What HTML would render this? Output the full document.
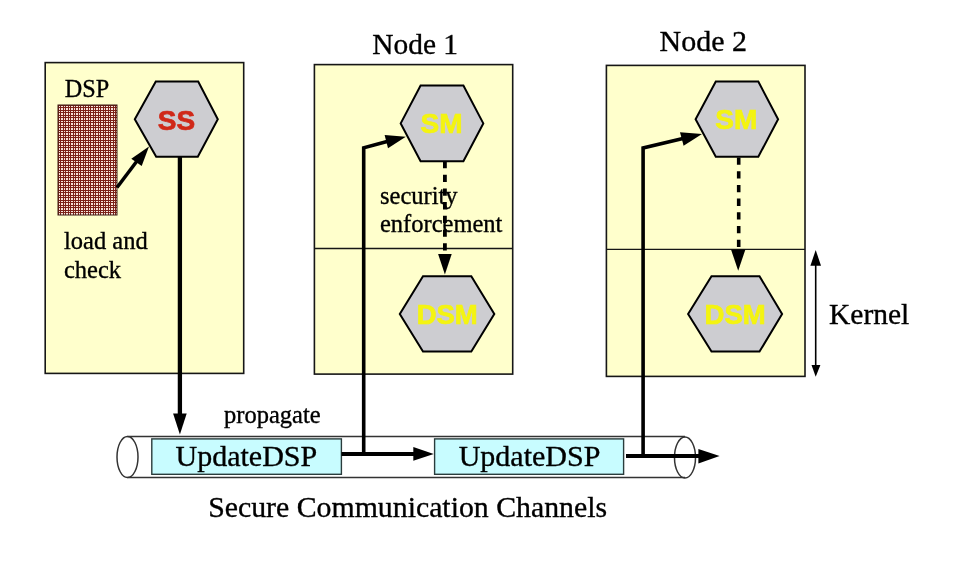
<!DOCTYPE html>
<html><head><meta charset="utf-8">
<style>
html,body{margin:0;padding:0;background:#fff;}
body{width:960px;height:572px;overflow:hidden;position:relative;}
svg{position:absolute;left:0;top:0;will-change:transform;}
.serif{font-family:"Liberation Serif",serif;fill:#000;stroke:#000;stroke-width:0.35px;}
.sans{font-family:"Liberation Sans",sans-serif;font-weight:bold;}
</style></head><body>
<svg width="960" height="572" viewBox="0 0 960 572">
<defs>
<pattern id="grid" x="58" y="105" width="5" height="5" patternUnits="userSpaceOnUse">
<rect width="5" height="5" fill="#f8e4dc"/>
<rect x="0" y="0" width="5" height="1" fill="#7c2219"/>
<rect x="0" y="2" width="5" height="1" fill="#7c2219"/>
<rect x="0" y="0" width="1" height="5" fill="#7c2219"/>
<rect x="2" y="0" width="1" height="5" fill="#7c2219"/>
</pattern>
</defs>

<!-- yellow boxes -->
<rect x="45.2" y="62.6" width="198.5" height="310.8" fill="#ffffcc" stroke="#161616" stroke-width="1.6"/>
<rect x="314.4" y="64.6" width="198.3" height="309.5" fill="#ffffcc" stroke="#161616" stroke-width="1.6"/>
<line x1="314.4" y1="248.5" x2="512.7" y2="248.5" stroke="#161616" stroke-width="1.3"/>
<rect x="606.4" y="65.4" width="198.6" height="311" fill="#ffffcc" stroke="#161616" stroke-width="1.6"/>
<line x1="606.4" y1="249.4" x2="805" y2="249.4" stroke="#161616" stroke-width="1.3"/>

<!-- DSP grid -->
<rect x="58" y="105" width="59" height="110" fill="url(#grid)" stroke="#3a1a14" stroke-width="1"/>

<!-- hexagons -->
<polygon points="134.8,119.2 155.8,81.6 198.2,81.6 217.8,119.2 197.8,156.8 156.2,156.8" fill="#cdcdd1" stroke="#000" stroke-width="2"/>
<polygon points="400.7,123.4 420.6,85.6 463.4,85.6 483.3,123.4 463.4,161.2 420.6,161.2" fill="#cdcdd1" stroke="#000" stroke-width="2"/>
<polygon points="399.8,314 423,276.2 471.3,276.2 494.3,314 471.3,351.6 423,351.6" fill="#cdcdd1" stroke="#000" stroke-width="2"/>
<polygon points="695.6,119.2 715.8,81.6 758.3,81.6 778.1,119.2 758.3,156.8 715.8,156.8" fill="#cdcdd1" stroke="#000" stroke-width="2"/>
<polygon points="688.1,314 711.5,276.2 759.5,276.2 782.1,314 759.5,351.6 711.5,351.6" fill="#cdcdd1" stroke="#000" stroke-width="2"/>

<text class="sans" x="176.5" y="129.6" font-size="28" fill="#d02818" stroke="#d02818" stroke-width="0.7" text-anchor="middle">SS</text>
<text class="sans" x="441.6" y="133.3" font-size="28" fill="#f4f410" stroke="#f4f410" stroke-width="0.7" text-anchor="middle">SM</text>
<text class="sans" x="447.2" y="324.2" font-size="27.5" fill="#f4f410" stroke="#f4f410" stroke-width="0.7" text-anchor="middle">DSM</text>
<text class="sans" x="736.3" y="129.4" font-size="28" fill="#f4f410" stroke="#f4f410" stroke-width="0.7" text-anchor="middle">SM</text>
<text class="sans" x="735.1" y="324.2" font-size="27.5" fill="#f4f410" stroke="#f4f410" stroke-width="0.7" text-anchor="middle">DSM</text>

<!-- serif labels -->
<text class="serif" x="64.8" y="96.8" font-size="24.2">DSP</text>
<text class="serif" x="64" y="248.5" font-size="24.5">load and</text>
<text class="serif" x="64" y="277.5" font-size="24.5">check</text>
<text class="serif" x="372.3" y="54" font-size="29.4">Node 1</text>
<text class="serif" x="659.5" y="51" font-size="30">Node 2</text>
<text class="serif" x="380" y="203.5" font-size="24.5">security</text>
<text class="serif" x="380" y="232" font-size="24.5">enforcement</text>
<text class="serif" x="829" y="324" font-size="29.5">Kernel</text>
<text class="serif" x="224" y="422.5" font-size="24.5">propagate</text>

<!-- dashed arrows -->
<line x1="444.9" y1="161" x2="444.9" y2="254" stroke="#000" stroke-width="3.8" stroke-dasharray="7.3 6.4"/>
<polygon points="438.1,254 451.7,254 444.9,274.6" fill="#000"/>
<line x1="738.7" y1="157.5" x2="738.7" y2="249.5" stroke="#000" stroke-width="3.6" stroke-dasharray="7.3 6.4"/>
<polygon points="731,249.5 745.4,249.5 738.2,270.7" fill="#000"/>

<!-- kernel arrow -->
<line x1="815.7" y1="262" x2="815.7" y2="367" stroke="#000" stroke-width="1.6"/>
<polygon points="815.7,250 810.4,265.7 821,265.7" fill="#000"/>
<polygon points="815.7,376.7 811.5,365 820.4,365" fill="#000"/>

<!-- tube -->
<ellipse cx="127.5" cy="457" rx="10.5" ry="20.5" fill="none" stroke="#333" stroke-width="1.5"/>
<line x1="127.5" y1="436.5" x2="685" y2="436.5" stroke="#333" stroke-width="1.5"/>
<line x1="127.5" y1="477.5" x2="685" y2="477.5" stroke="#333" stroke-width="1.5"/>
<ellipse cx="685" cy="457.5" rx="10.5" ry="20.5" fill="none" stroke="#333" stroke-width="1.5"/>

<!-- cyan boxes -->
<rect x="151.8" y="438.9" width="189.6" height="35.4" fill="#c8fcff" stroke="#2a3c3c" stroke-width="1.4"/>
<rect x="434.6" y="438.9" width="189" height="35.4" fill="#c8fcff" stroke="#2a3c3c" stroke-width="1.4"/>
<text class="serif" x="175.5" y="466.25" font-size="30">UpdateDSP</text>
<text class="serif" x="458.7" y="466.25" font-size="30">UpdateDSP</text>
<text class="serif" x="208.2" y="516.8" font-size="29.8">Secure Communication Channels</text>

<!-- solid arrows -->
<line x1="117" y1="187.5" x2="137" y2="161" stroke="#000" stroke-width="3.5"/>
<polygon points="149,146.5 131.3,158.8 141.7,166.1" fill="#000"/>

<line x1="179.9" y1="157" x2="179.9" y2="415" stroke="#000" stroke-width="4.3"/>
<polygon points="173.1,413.6 186.7,413.6 179.9,434.6" fill="#000"/>

<polyline points="363.7,456 363.7,147.8 388,141.2" fill="none" stroke="#000" stroke-width="3.6" stroke-linejoin="miter"/>
<polygon points="405.8,136.8 384.6,134.9 388,148.2" fill="#000"/>

<polyline points="643.1,458 643.1,148 684,138.2" fill="none" stroke="#000" stroke-width="3.6" stroke-linejoin="miter"/>
<polygon points="702,134 680,132.2 683.6,145.8" fill="#000"/>

<line x1="341.5" y1="454" x2="415" y2="454" stroke="#000" stroke-width="4"/>
<polygon points="433.75,454 413.3,447 413.3,460.7" fill="#000"/>
<line x1="626" y1="456" x2="700" y2="456" stroke="#000" stroke-width="4"/>
<polygon points="719.6,456 698.4,449 698.4,463.6" fill="#000"/>
</svg>
</body></html>
